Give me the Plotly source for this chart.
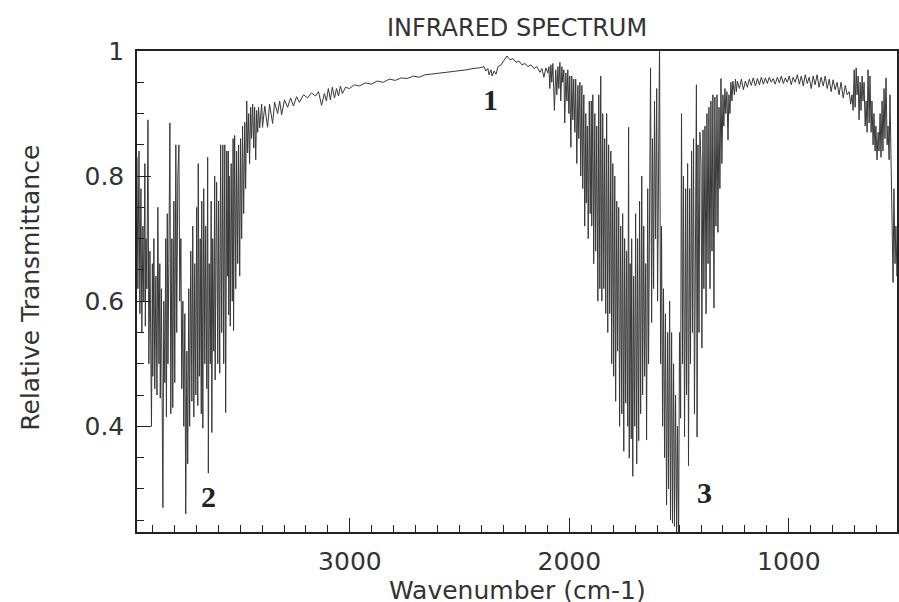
import plotly.graph_objects as go

# (wavenumber cm-1, relative transmittance)
oh_stretch = [
    (3970, 0.83), (3966, 0.62), (3961, 0.84), (3957, 0.58), (3952, 0.78), (3948, 0.55),
    (3943, 0.72), (3939, 0.60), (3934, 0.82), (3932, 0.56), (3929, 0.70), (3925, 0.62),
    (3920, 0.89), (3916, 0.50), (3911, 0.68), (3907, 0.46), (3904, 0.40), (3900, 0.66),
    (3898, 0.48), (3893, 0.70), (3889, 0.46), (3884, 0.64), (3879, 0.45), (3875, 0.75),
    (3870, 0.50), (3866, 0.66), (3864, 0.445), (3859, 0.62), (3857, 0.48), (3852, 0.27),
    (3848, 0.60), (3843, 0.47), (3839, 0.70), (3836, 0.415), (3832, 0.74), (3829, 0.50),
    (3825, 0.66), (3820, 0.885), (3816, 0.42), (3811, 0.70), (3807, 0.43), (3802, 0.76),
    (3798, 0.47), (3793, 0.85), (3789, 0.55), (3784, 0.80), (3779, 0.85), (3775, 0.60),
    (3770, 0.70), (3766, 0.46), (3761, 0.60), (3757, 0.40), (3752, 0.58), (3748, 0.26),
    (3743, 0.52), (3739, 0.34), (3734, 0.62), (3730, 0.40), (3725, 0.68), (3720, 0.44),
    (3716, 0.72), (3711, 0.415), (3707, 0.66), (3702, 0.45), (3698, 0.75), (3693, 0.433),
    (3691, 0.82), (3686, 0.48), (3682, 0.70), (3677, 0.42), (3675, 0.76), (3670, 0.397),
    (3666, 0.78), (3661, 0.50), (3657, 0.72), (3652, 0.46), (3648, 0.83), (3645, 0.325),
    (3641, 0.66), (3636, 0.50), (3632, 0.76), (3629, 0.39), (3625, 0.70), (3620, 0.52),
    (3616, 0.80), (3614, 0.474), (3609, 0.72), (3607, 0.79), (3602, 0.50), (3598, 0.76),
    (3593, 0.485), (3589, 0.85), (3584, 0.55), (3579, 0.85), (3575, 0.50), (3570, 0.85),
    (3566, 0.422), (3561, 0.84), (3557, 0.64), (3554, 0.84), (3552, 0.578), (3550, 0.80),
    (3545, 0.56), (3541, 0.82), (3536, 0.60), (3532, 0.86), (3530, 0.553), (3525, 0.865),
    (3520, 0.62), (3516, 0.84), (3511, 0.66), (3507, 0.85), (3502, 0.64), (3498, 0.86),
    (3493, 0.70), (3489, 0.88), (3484, 0.74), (3479, 0.886), (3475, 0.78), (3470, 0.92),
    (3466, 0.837), (3461, 0.90), (3457, 0.82), (3452, 0.91), (3448, 0.86), (3443, 0.915),
    (3438, 0.845), (3434, 0.91), (3429, 0.826), (3425, 0.905), (3420, 0.87), (3416, 0.91),
    (3411, 0.877),
]

continuum = [
    (3402, 0.915), (3398, 0.878), (3388, 0.912), (3375, 0.878), (3366, 0.915), (3352, 0.884),
    (3343, 0.918), (3329, 0.90), (3320, 0.92), (3311, 0.898), (3298, 0.922), (3284, 0.91),
    (3270, 0.925), (3257, 0.912), (3243, 0.927), (3230, 0.918), (3211, 0.93), (3193, 0.925),
    (3175, 0.933), (3157, 0.928), (3143, 0.935), (3129, 0.913), (3116, 0.932), (3107, 0.92),
    (3098, 0.94), (3089, 0.922), (3080, 0.942), (3070, 0.925), (3061, 0.94), (3052, 0.928),
    (3043, 0.944), (3034, 0.932), (3020, 0.942), (3002, 0.94), (2980, 0.946), (2957, 0.944),
    (2930, 0.949), (2902, 0.947), (2875, 0.952), (2848, 0.95), (2820, 0.955), (2793, 0.953),
    (2766, 0.957), (2739, 0.956), (2711, 0.96), (2684, 0.958), (2657, 0.962), (2630, 0.963),
    (2602, 0.964), (2575, 0.966), (2548, 0.966), (2520, 0.968), (2493, 0.969), (2466, 0.97),
    (2439, 0.972), (2411, 0.973), (2389, 0.975), (2380, 0.968), (2371, 0.972), (2366, 0.962),
    (2357, 0.97), (2352, 0.96), (2343, 0.968), (2334, 0.963), (2325, 0.975), (2311, 0.978),
    (2298, 0.985), (2284, 0.992), (2270, 0.986), (2257, 0.988), (2243, 0.982), (2230, 0.984),
    (2216, 0.978), (2202, 0.98), (2189, 0.975), (2175, 0.978), (2161, 0.972), (2148, 0.975),
    (2134, 0.966), (2125, 0.972), (2116, 0.958), (2107, 0.973), (2098, 0.965),
]

hoh_bend = [
    (2093, 0.975), (2089, 0.94), (2084, 0.978), (2080, 0.95), (2075, 0.98), (2068, 0.905),
    (2062, 0.97), (2057, 0.93), (2052, 0.975), (2048, 0.94), (2043, 0.982), (2039, 0.92),
    (2034, 0.975), (2030, 0.95), (2025, 0.97), (2021, 0.885), (2016, 0.965), (2011, 0.92),
    (2007, 0.97), (2002, 0.90), (1998, 0.96), (1993, 0.846), (1989, 0.96), (1984, 0.89),
    (1980, 0.955), (1975, 0.87), (1971, 0.955), (1966, 0.82), (1961, 0.945), (1957, 0.86),
    (1952, 0.95), (1948, 0.80), (1943, 0.945), (1939, 0.78), (1934, 0.93), (1930, 0.72),
    (1925, 0.90), (1923, 0.757), (1918, 0.88), (1914, 0.70), (1909, 0.92), (1905, 0.74),
    (1900, 0.92), (1898, 0.72), (1893, 0.93), (1889, 0.66), (1884, 0.90), (1880, 0.68),
    (1875, 0.88), (1870, 0.60), (1866, 0.93), (1861, 0.62), (1857, 0.96), (1852, 0.60),
    (1848, 0.90), (1843, 0.62), (1839, 0.86), (1834, 0.58), (1830, 0.90), (1825, 0.55),
    (1821, 0.85), (1816, 0.58), (1811, 0.84), (1807, 0.50), (1802, 0.82), (1798, 0.48),
    (1793, 0.80), (1789, 0.44), (1784, 0.76), (1780, 0.52), (1775, 0.75), (1771, 0.40),
    (1766, 0.72), (1761, 0.42), (1757, 0.74), (1752, 0.36), (1748, 0.70), (1743, 0.437),
    (1739, 0.68), (1734, 0.40), (1730, 0.878), (1727, 0.349), (1723, 0.66), (1718, 0.38),
    (1716, 0.70), (1711, 0.32), (1707, 0.64), (1702, 0.40), (1698, 0.74), (1693, 0.34),
    (1689, 0.70), (1684, 0.377), (1680, 0.76), (1675, 0.42), (1670, 0.80), (1666, 0.45),
    (1661, 0.72), (1657, 0.48), (1652, 0.66), (1648, 0.378), (1643, 0.78), (1639, 0.50),
    (1634, 0.84), (1630, 0.973), (1625, 0.566), (1621, 0.86), (1616, 0.62), (1612, 0.92),
    (1607, 0.70), (1602, 0.94), (1598, 0.60), (1593, 0.88), (1589, 1.02), (1584, 0.50),
    (1580, 0.72), (1575, 0.40), (1571, 0.62), (1566, 0.35), (1562, 0.58), (1557, 0.274),
    (1552, 0.55), (1548, 0.30), (1543, 0.60), (1539, 0.25), (1534, 0.55), (1530, 0.245),
    (1525, 0.50), (1521, 0.24), (1516, 0.45), (1511, 0.23), (1507, 0.40), (1502, 0.22),
    (1498, 0.55), (1493, 0.413), (1489, 0.90), (1484, 0.50), (1480, 0.80), (1475, 0.383),
    (1470, 0.78), (1466, 0.45), (1461, 0.82), (1457, 0.337), (1452, 0.78), (1448, 0.50),
    (1443, 0.84), (1439, 0.55), (1434, 0.86), (1430, 0.42), (1425, 0.88), (1421, 0.946),
    (1418, 0.383), (1414, 0.85), (1409, 0.55), (1405, 0.87), (1400, 0.82), (1396, 0.525),
    (1391, 0.874), (1387, 0.62), (1382, 0.88), (1377, 0.58), (1373, 0.90), (1368, 0.66),
    (1364, 0.91), (1359, 0.62), (1355, 0.92), (1350, 0.68), (1346, 0.93), (1341, 0.589),
    (1337, 0.926), (1332, 0.72), (1327, 0.93), (1323, 0.71), (1318, 0.91), (1314, 0.78),
    (1309, 0.956), (1305, 0.82), (1300, 0.93), (1296, 0.88), (1291, 0.94), (1287, 0.90),
    (1282, 0.935), (1277, 0.858), (1273, 0.93), (1268, 0.90), (1264, 0.95), (1259, 0.92),
    (1255, 0.952),
]

plateau = [
    (1248, 0.93), (1243, 0.955), (1239, 0.935), (1234, 0.952), (1225, 0.94), (1216, 0.955),
    (1207, 0.938), (1198, 0.952), (1189, 0.942), (1180, 0.955), (1171, 0.945), (1162, 0.957),
    (1152, 0.944), (1143, 0.956), (1134, 0.946), (1125, 0.958), (1116, 0.947), (1107, 0.957),
    (1098, 0.948), (1089, 0.958), (1080, 0.95), (1071, 0.956), (1062, 0.947), (1052, 0.958),
    (1043, 0.949), (1034, 0.96), (1025, 0.948), (1016, 0.957), (1007, 0.95), (998, 0.96),
    (989, 0.946), (980, 0.958), (971, 0.95), (961, 0.962), (952, 0.947), (943, 0.96),
    (934, 0.944), (925, 0.962), (916, 0.948), (907, 0.958), (898, 0.94), (889, 0.96),
    (880, 0.946), (871, 0.962), (862, 0.942), (853, 0.958), (843, 0.944), (834, 0.96),
    (825, 0.94), (816, 0.955), (807, 0.935), (798, 0.954), (789, 0.938), (780, 0.95),
    (771, 0.93), (762, 0.95), (752, 0.925), (743, 0.945), (734, 0.93),
]

low_edge = [
    (725, 0.935), (718, 0.915), (712, 0.93), (707, 0.905), (702, 0.97), (698, 0.91),
    (693, 0.973), (689, 0.93), (684, 0.96), (680, 0.89), (675, 0.95), (671, 0.905),
    (666, 0.96), (662, 0.92), (657, 0.95), (652, 0.88), (648, 0.92), (643, 0.87),
    (639, 0.97), (634, 0.885), (630, 0.96), (625, 0.87), (621, 0.92), (616, 0.85),
    (612, 0.90), (607, 0.84), (603, 0.88), (598, 0.826), (593, 0.87), (589, 0.84),
    (584, 0.90), (580, 0.83), (575, 0.92), (571, 0.84), (566, 0.94), (562, 0.86),
    (557, 0.957), (552, 0.85), (548, 0.88), (543, 0.826), (539, 0.93), (534, 0.82),
    (530, 0.80), (525, 0.63), (521, 0.78), (516, 0.66), (512, 0.72), (507, 0.64),
    (503, 0.70),
]

segments = [oh_stretch, continuum, hoh_bend, plateau, low_edge]
wavenumber = [p[0] for seg in segments for p in seg]
transmittance = [p[1] for seg in segments for p in seg]

x_range = [3970, 507]
y_range = [0.231, 1.0]
x_ticks = [3000, 2000, 1000]
y_ticks = [0.4, 0.6, 0.8, 1.0]
y_tick_text = ["0.4", "0.6", "0.8", "1"]

# band labels: (text, wavenumber, transmittance)
band_labels = [("1", 2357, 0.923), ("2", 3643, 0.288), ("3", 1384, 0.294)]

ink = "#222222"
font_main = "DejaVu Sans"

fig = go.Figure()
fig.add_trace(go.Scatter(
    x=wavenumber, y=transmittance, mode="lines",
    line=dict(color="#383838", width=1.0), hoverinfo="skip", showlegend=False,
))

for txt, xv, yv in band_labels:
    fig.add_annotation(x=xv, y=yv, xref="x", yref="y", text="<b>%s</b>" % txt,
                       showarrow=False, font=dict(family="Liberation Serif", size=30, color="#222"))

fig.add_annotation(x=0.5, y=1.048, xref="paper", yref="paper", text="INFRARED SPECTRUM",
                   showarrow=False, font=dict(family=font_main, size=24, color="#333"),
                   xanchor="center", yanchor="middle")
fig.add_annotation(x=0.5, y=-0.122, xref="paper", yref="paper", text="Wavenumber (cm-1)",
                   showarrow=False, font=dict(family=font_main, size=25, color="#333"),
                   xanchor="center", yanchor="middle")
fig.add_annotation(x=-0.14, y=0.507, xref="paper", yref="paper", text="Relative Transmittance",
                   showarrow=False, textangle=-90, font=dict(family=font_main, size=25, color="#333"),
                   xanchor="center", yanchor="middle")

axis_common = dict(
    showgrid=False, zeroline=False, showline=True, linecolor=ink, linewidth=1.5,
    mirror=True, ticks="inside", ticklen=14, tickwidth=1.3, tickcolor=ink,
    tickfont=dict(family=font_main, size=25, color="#333"),
)

fig.update_xaxes(range=x_range, tickvals=x_ticks, ticklabelstandoff=6,
                 minor=dict(ticks="inside", ticklen=7, dtick=100, tickcolor=ink, tickwidth=1.2),
                 **axis_common)
fig.update_yaxes(range=y_range, tickvals=y_ticks, ticktext=y_tick_text, ticklabelstandoff=6,
                 minor=dict(ticks="inside", ticklen=7, dtick=0.05, tick0=0, tickcolor=ink, tickwidth=1.2),
                 **axis_common)

fig.update_layout(
    width=899, height=602, autosize=False,
    margin=dict(l=137, r=0, t=51, b=70),
    paper_bgcolor="white", plot_bgcolor="white",
)

# remove the browser's default page margin so the 899x602 figure fills the window
fig.write_html(
    "out.html",
    config={"displayModeBar": False},
    post_script="document.body.style.margin='0';document.body.style.overflow='hidden';",
)
